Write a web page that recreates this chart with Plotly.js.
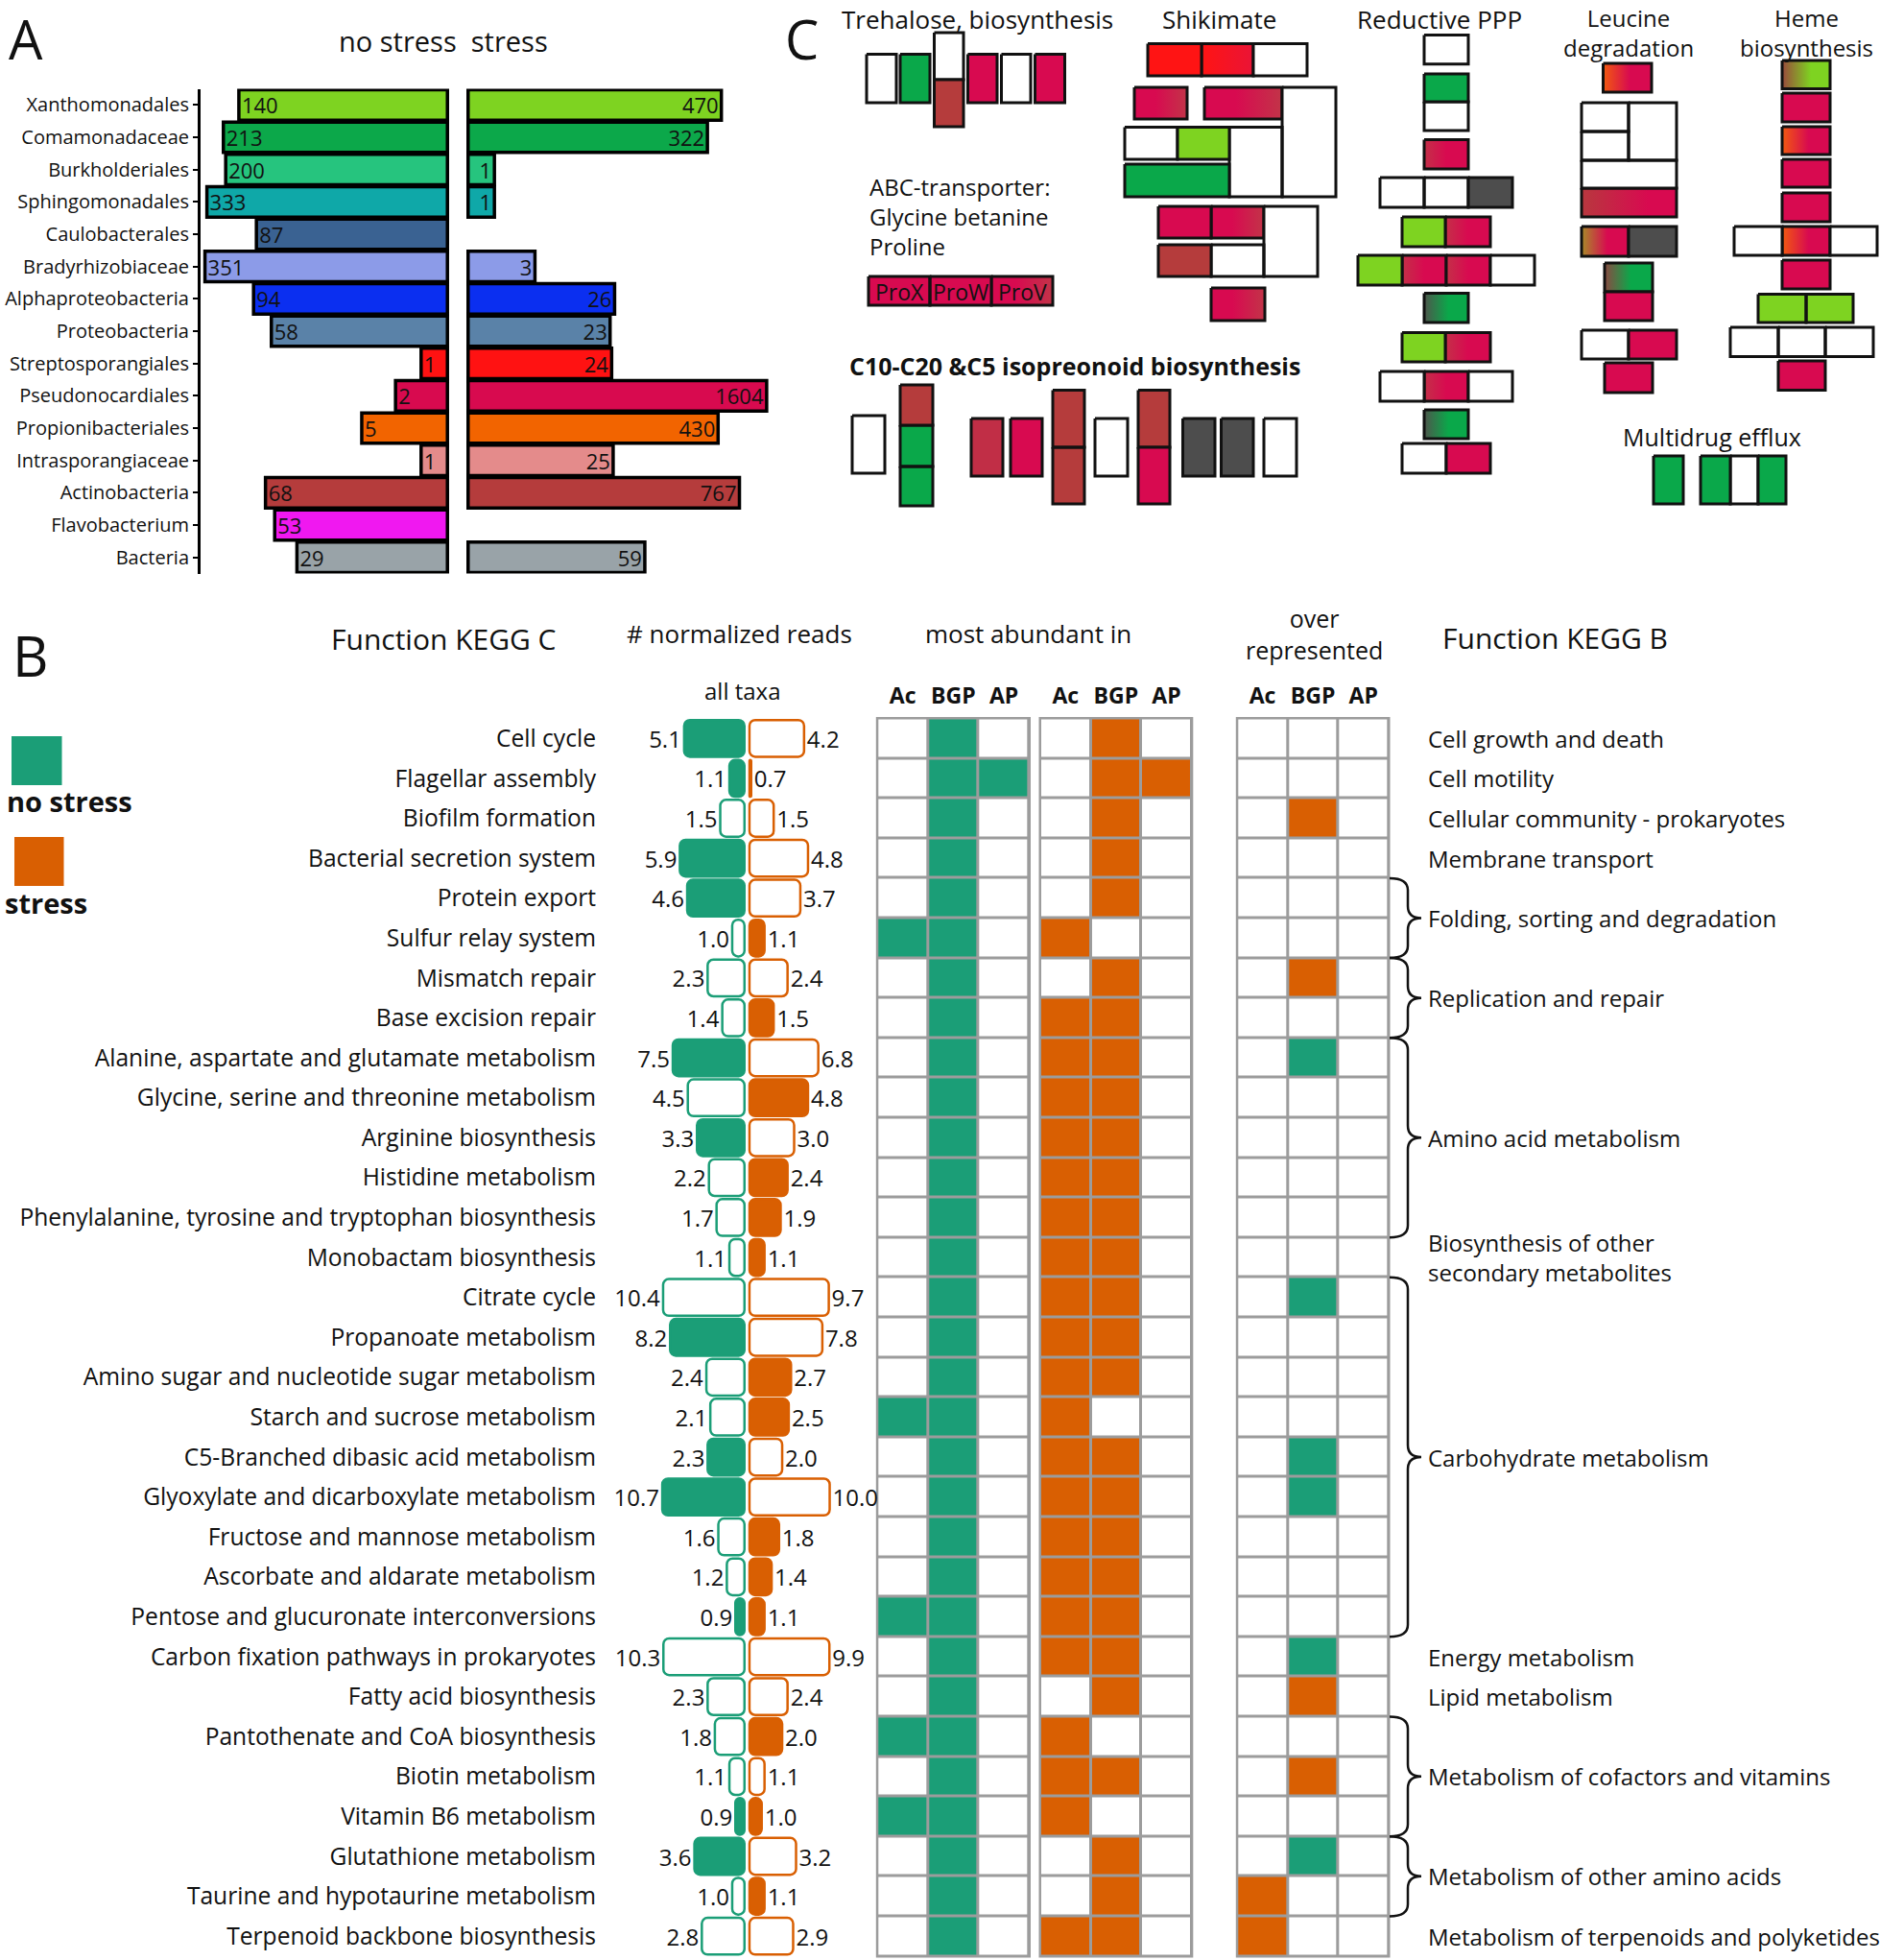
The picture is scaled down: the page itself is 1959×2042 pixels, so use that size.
<!DOCTYPE html>
<html><head><meta charset="utf-8">
<script src="https://cdn.plot.ly/plotly-3.0.1.min.js"></script>
<style>html,body{margin:0;padding:0;background:#fff}</style>
</head><body><div id="chart" style="width:1959px;height:2042px"></div>
<script>
// ================= DATA =================
// Panel A: taxa abundance (log scale)
const taxa = ['Xanthomonadales','Comamonadaceae','Burkholderiales','Sphingomonadales','Caulobacterales','Bradyrhizobiaceae','Alphaproteobacteria','Proteobacteria','Streptosporangiales','Pseudonocardiales','Propionibacteriales','Intrasporangiaceae','Actinobacteria','Flavobacterium','Bacteria'];
const taxaNoStress = [140,213,200,333,87,351,94,58,1,2,5,1,68,53,29];
const taxaStress   = [470,322,1,1,null,3,26,23,24,1604,430,25,767,null,59];
const taxaColors = ['#7ed321','#0ca84a','#26c47e','#0fa8a8','#3a6292','#8c9be8','#0b2ff0','#5a82a8','#ff1212','#d80a4f','#f26400','#e48b8b','#b53c3c','#f018f0','#99a3a8'];

// Panel B: KEGG C functions
const functionsC = ['Cell cycle','Flagellar assembly','Biofilm formation','Bacterial secretion system','Protein export','Sulfur relay system','Mismatch repair','Base excision repair','Alanine, aspartate and glutamate metabolism','Glycine, serine and threonine metabolism','Arginine biosynthesis','Histidine metabolism','Phenylalanine, tyrosine and tryptophan biosynthesis','Monobactam biosynthesis','Citrate cycle','Propanoate metabolism','Amino sugar and nucleotide sugar metabolism','Starch and sucrose metabolism','C5-Branched dibasic acid metabolism','Glyoxylate and dicarboxylate metabolism','Fructose and mannose metabolism','Ascorbate and aldarate metabolism','Pentose and glucuronate interconversions','Carbon fixation pathways in prokaryotes','Fatty acid biosynthesis','Pantothenate and CoA biosynthesis','Biotin metabolism','Vitamin B6 metabolism','Glutathione metabolism','Taurine and hypotaurine metabolism','Terpenoid backbone biosynthesis'];
const readsNoStress = [5.1,1.1,1.5,5.9,4.6,1.0,2.3,1.4,7.5,4.5,3.3,2.2,1.7,1.1,10.4,8.2,2.4,2.1,2.3,10.7,1.6,1.2,0.9,10.3,2.3,1.8,1.1,0.9,3.6,1.0,2.8];
const readsStress   = [4.2,0.7,1.5,4.8,3.7,1.1,2.4,1.5,6.8,4.8,3.0,2.4,1.9,1.1,9.7,7.8,2.7,2.5,2.0,10.0,1.8,1.4,1.1,9.9,2.4,2.0,1.1,1.0,3.2,1.1,2.9];
const filledNoStress = [1,1,0,1,1,0,0,0,1,0,1,0,0,0,0,1,0,0,1,1,0,0,1,0,0,0,0,1,1,0,0];
const filledStress   = [0,1,0,0,0,1,0,1,0,1,0,1,1,1,0,0,1,1,0,0,1,1,1,0,0,1,0,1,0,1,0];
const gridColumns = ['Ac','BGP','AP'];
// most abundant in (no stress): 1 = yes
const abundantNoStress = [[0,1,0],[0,1,1],[0,1,0],[0,1,0],[0,1,0],[1,1,0],[0,1,0],[0,1,0],[0,1,0],[0,1,0],[0,1,0],[0,1,0],[0,1,0],[0,1,0],[0,1,0],[0,1,0],[0,1,0],[1,1,0],[0,1,0],[0,1,0],[0,1,0],[0,1,0],[1,1,0],[0,1,0],[0,1,0],[1,1,0],[0,1,0],[1,1,0],[0,1,0],[0,1,0],[0,1,0]];
// most abundant in (stress)
const abundantStress = [[0,1,0],[0,1,1],[0,1,0],[0,1,0],[0,1,0],[1,0,0],[0,1,0],[1,1,0],[1,1,0],[1,1,0],[1,1,0],[1,1,0],[1,1,0],[1,1,0],[1,1,0],[1,1,0],[1,1,0],[1,0,0],[1,1,0],[1,1,0],[1,1,0],[1,1,0],[1,1,0],[1,1,0],[0,1,0],[1,0,0],[1,1,0],[1,0,0],[0,1,0],[0,1,0],[1,1,0]];
// over represented: 1 = no stress, 2 = stress
const overRepresented = [[0,0,0],[0,0,0],[0,2,0],[0,0,0],[0,0,0],[0,0,0],[0,2,0],[0,0,0],[0,1,0],[0,0,0],[0,0,0],[0,0,0],[0,0,0],[0,0,0],[0,1,0],[0,0,0],[0,0,0],[0,0,0],[0,1,0],[0,1,0],[0,0,0],[0,0,0],[0,0,0],[0,1,0],[0,2,0],[0,0,0],[0,2,0],[0,0,0],[0,1,0],[2,0,0],[2,0,0]];
// KEGG B groups: [label, first row, last row]
const functionsB = [
 ['Cell growth and death',0,0],['Cell motility',1,1],['Cellular community - prokaryotes',2,2],['Membrane transport',3,3],
 ['Folding, sorting and degradation',4,5],['Replication and repair',6,7],['Amino acid metabolism',8,12],
 ['Biosynthesis of other<br>secondary metabolites',13,13],['Carbohydrate metabolism',14,22],['Energy metabolism',23,23],
 ['Lipid metabolism',24,24],['Metabolism of cofactors and vitamins',25,27],['Metabolism of other amino acids',28,29],
 ['Metabolism of terpenoids and polyketides',30,30]];

// Panel C: pathway gene boxes - state codes per box (W none, G green, L light green, C crimson, B brown, R red, O orange, K grey, M mixed; 'a>b' gradient)
const trehaloseStates = ['W','G','W','B','C','W','C'];
const shikimateStates = ['R','R>r','W','C>M','C>M','W','W','L','W','G','C','C>M','W','B','W','C>M'];
const proStates = ['C','C','C>M'];
const proGenes = ['ProX','ProW','ProV'];
const isoprenoidStates = ['W','B','G','G','M','C','B','B','W','B','C','K','K','W'];
const pppStates = ['W','G','W','M>C','W','W','K','L','M>C','L','M>C','M>C','W','K>G','L','M>C','W','M>C','W','K>G','W','C'];
const leucineStates = ['O>C','W','W','W','W','B>C','Y>C','K','B>G','C','W','C','C'];
const hemeStates = ['B>L','C','O>C','C','C','W','O>C','W','C','L','L','W','W','W','C'];
const multidrugStates = ['G','G','W','G'];

// ================= GEOMETRY / STYLE =================
const W = 1959, H = 2042, FONT = 'Open Sans, sans-serif', INK = '#111';
const GREEN = '#1b9e77', ORANGE = '#d95f02';
const px = x => x / W, py = y => 1 - y / H;

// diagram box outlines for panel C, [x0,x1,y0,y1] in figure pixels
const trehaloseGeom = [[903,934,56.5,107],[938,969,56.5,107],[973.5,1004,34,83],[973.5,1004,83,132],[1008.5,1039,56.5,107],[1043.5,1074,56.5,107],[1078.5,1109.5,56.5,107]];
const shikimateGeom = [[1196,1252,45.5,79],[1252,1306,45.5,79],[1306,1362,45.5,79],[1182,1237,91,124],[1255,1336,91,124],[1336,1392,91,205],[1172,1227,132.5,166],[1227,1281,132.5,166],[1281,1336,132.5,205],[1172,1281,171,205],[1207,1262,215,248],[1262,1317,215,248],[1317,1373,215,288],[1207,1262,255,288],[1262,1317,255,288],[1262,1318,300,334]];
const proGeom = [[905,969,288,318],[969,1033,288,318],[1033,1097,288,318]];
const isoprenoidGeom = [[888,922,433,493],[938,972,401,443],[938,972,443,486],[938,972,486,527],[1012,1045,436,496],[1053,1086,436,496],[1097,1130,406.5,466],[1097,1130,466,525],[1141,1175,436,496],[1186,1219,406.5,466],[1186,1219,466,525],[1232.5,1266,436,496],[1272.5,1306,436,496],[1317,1351,436,496]];
const pppGeom = [[1484,1530,36.6,66.8],[1484,1530,77,106],[1484,1530,106,136],[1484,1530,145.5,176],[1438,1484,185,216],[1484,1530,185,216],[1530,1576,185,216],[1461,1506,226,257],[1506,1553,226,257],[1415,1461,266,297],[1461,1507,266,297],[1507,1553,266,297],[1553,1599,266,297],[1484,1530,305.5,336],[1461,1506,346.5,377],[1506,1553,346.5,377],[1438,1484,387,418],[1484,1530,387,418],[1530,1576,387,418],[1484,1530,427,457],[1461,1507,462,493],[1507,1553,462,493]];
const leucineGeom = [[1670.5,1721,66,96],[1648,1697,107,137],[1648,1697,137,167],[1697,1747,107,167],[1648,1747,167,196],[1648,1747,196,226],[1648,1697,236,267],[1697,1747,236,267],[1672,1722,274,304],[1672,1722,304,334],[1648,1697,344,374],[1697,1747,344,374],[1672,1722,378,409]];
const hemeGeom = [[1857,1907,63,92.5],[1857,1907,97,127],[1857,1907,132,161],[1857,1907,166,195],[1857,1907,201,231],[1807,1857,236,266],[1857,1907,236,266],[1907,1956,236,266],[1857,1907,271,301],[1832,1882,306.5,336],[1882,1931,306.5,336],[1803,1853,341,371.5],[1853,1902,341,371.5],[1902,1952,341,371.5],[1853,1902,376,406.5]];
const multidrugGeom = [[1723,1754,475,525],[1772,1803,475,525],[1803,1832,475,525],[1832,1861,475,525]];

const solidFill = {W:'#ffffff',G:'#0aa84a',L:'#7ed321',C:'#d80a50',B:'#b53c3c',R:'#ff1414',O:'#f26500',K:'#4d4d4d',M:'#c12e46'};
const gradFill = {
 'R>r':[[0,'#ff1414'],[1,'#ea1436']],
 'C>M':[[0,'#d80a50'],[0.4,'#d80a50'],[1,'#c23448']],
 'M>C':[[0,'#c43048'],[0.5,'#d80a50'],[1,'#d80a50']],
 'K>G':[[0,'#4e564c'],[0.55,'#0aa84a'],[1,'#0aa84a']],
 'O>C':[[0,'#f25a10'],[0.55,'#d80a50'],[1,'#d80a50']],
 'B>L':[[0,'#9a4a3c'],[0.6,'#7ed321'],[1,'#7ed321']],
 'B>C':[[0,'#b8383e'],[0.7,'#d80a50'],[1,'#d80a50']],
 'Y>C':[[0,'#a88c28'],[0.55,'#d80a50'],[1,'#d80a50']],
 'B>G':[[0,'#8a4a42'],[0.55,'#0aa84a'],[1,'#0aa84a']]
};

const traces = [];
// ---------- Panel A ----------
const baseA = Math.pow(10, -0.31);
const barA = (vals, xa) => ({
  type:'bar', orientation:'h', y:taxa, x:vals.map(v => v == null ? null : v - baseA), base:baseA,
  xaxis:xa, yaxis:'y', width:0.94,
  marker:{color:taxaColors, line:{color:'#000', width:3.5}},
  text:vals.map(v => v == null ? '' : String(v)), textposition:'inside', insidetextanchor:'end',
  textangle:0, constraintext:'none', textfont:{size:22, color:INK, family:FONT}, hoverinfo:'skip'
});
traces.push(barA(taxaNoStress, 'x'), barA(taxaStress, 'x2'));

// ---------- Panel B bars ----------
const rowIdx = functionsC.map((_, i) => i);
const baseB = 0.66;
const barB = (vals, filled, col, xa) => ({
  type:'bar', orientation:'h', y:rowIdx, x:vals.map(v => v - baseB), base:baseB,
  xaxis:xa, yaxis:'y2', width:0.92,
  marker:{color:filled.map(f => f ? col : '#ffffff'), line:{color:col, width:2.5}, cornerradius:6},
  text:vals.map(v => v.toFixed(1)), textposition:'outside', textangle:0, constraintext:'none', cliponaxis:false,
  textfont:{size:24, color:INK, family:FONT}, hoverinfo:'skip'
});
traces.push(barB(readsNoStress, filledNoStress, GREEN, 'x3'), barB(readsStress, filledStress, ORANGE, 'x4'));

// ---------- Panel B grids ----------
const heat = (z, xa, scale, zmax) => ({type:'heatmap', z, x:[0,1,2], y:rowIdx, xaxis:xa, yaxis:'y2',
  colorscale:scale, zmin:0, zmax, showscale:false, xgap:3, ygap:3, hoverinfo:'skip'});
traces.push(heat(abundantNoStress, 'x5', [[0,'#ffffff'],[1,GREEN]], 1));
traces.push(heat(abundantStress, 'x6', [[0,'#ffffff'],[1,ORANGE]], 1));
traces.push(heat(overRepresented, 'x7', [[0,'#ffffff'],[0.33,'#ffffff'],[0.34,GREEN],[0.66,GREEN],[0.67,ORANGE],[1,ORANGE]], 2));

// ---------- Panel C boxes ----------
const solidBuckets = {};
function addBoxes(geom, states) {
  geom.forEach((g, i) => {
    const [x0, x1, y0, y1] = g, s = states[i];
    const xs = [x0, x1, x1, x0, x0], ys = [y0, y0, y1, y1, y0];
    if (gradFill[s]) {
      traces.push({type:'scatter', mode:'lines', x:xs, y:ys, xaxis:'x8', yaxis:'y3', fill:'toself',
        fillgradient:{type:'horizontal', start:x0, stop:x1, colorscale:gradFill[s]}, line:{color:INK, width:3}, hoverinfo:'skip'});
    } else {
      const b = solidBuckets[s] || (solidBuckets[s] = {x:[], y:[]});
      b.x.push(...xs, null); b.y.push(...ys, null);
    }
  });
}
addBoxes(trehaloseGeom, trehaloseStates);
addBoxes(shikimateGeom, shikimateStates);
addBoxes(proGeom, proStates);
addBoxes(isoprenoidGeom, isoprenoidStates);
addBoxes(pppGeom, pppStates);
addBoxes(leucineGeom, leucineStates);
addBoxes(hemeGeom, hemeStates);
addBoxes(multidrugGeom, multidrugStates);
Object.keys(solidBuckets).forEach(k => {
  traces.push({type:'scatter', mode:'lines', x:solidBuckets[k].x, y:solidBuckets[k].y, xaxis:'x8', yaxis:'y3',
    fill:'toself', fillcolor:solidFill[k], line:{color:INK, width:3}, hoverinfo:'skip', connectgaps:false});
});

// ---------- annotations ----------
const note = (text, x, y, size, extra) => Object.assign({text, x, y, xref:'x8', yref:'y3', showarrow:false,
  xanchor:'center', yanchor:'middle', font:{size, color:INK, family:FONT}}, extra || {});
const ANCHOR_TOP = {yanchor:'top'};
const annotations = [
  note('A', 27, 0, 56, ANCHOR_TOP), note('B', 31, 682, 58), note('C', 835, 0, 56, ANCHOR_TOP),
  note('no stress  stress', 462, 42, 29),
  note('Function KEGG C', 462, 665, 30), note('# normalized reads', 770, 660, 26), note('all taxa', 773, 719, 24),
  note('most abundant in', 1071, 660, 26), note('over<br>represented', 1369, 660, 25),
  note('Function KEGG B', 1620, 664, 30),
  note('<b>no stress</b>', 5, 834, 29, {xanchor:'left'}), note('<b>stress</b>', 3, 940, 29, {xanchor:'left'}),
  note('Trehalose, biosynthesis', 1018, 0, 26, ANCHOR_TOP), note('Shikimate', 1270, 0, 26, ANCHOR_TOP),
  note('ABC-transporter:<br>Glycine betanine<br>Proline', 904, 225, 24, {xanchor:'left', align:'left'}),
  note('<b>C10-C20 &C5 isopreonoid biosynthesis</b>', 1120, 381, 25),
  note('Reductive PPP', 1500, 0, 26, ANCHOR_TOP), note('Leucine<br>degradation', 1697, 0, 24, ANCHOR_TOP),
  note('Heme<br>biosynthesis', 1882, 0, 24, ANCHOR_TOP), note('Multidrug efflux', 1784, 455, 25)
];
proGeom.forEach((g, i) => annotations.push(note(proGenes[i], (g[0] + g[1]) / 2, (g[2] + g[3]) / 2 + 1, 23)));
functionsB.forEach(([label, a, b]) => annotations.push({text:label, x:1486, y:(a + b) / 2, xref:'x8', yref:'y2',
  showarrow:false, xanchor:'left', yanchor:'middle', align:'left', font:{size:24, color:INK, family:FONT}}));

// ---------- shapes ----------
const shapes = [];
['x5','x6','x7'].forEach(xa => shapes.push({type:'rect', xref:xa + ' domain', yref:'y2 domain', x0:0, x1:1, y0:0, y1:1,
  fillcolor:'#9c9c9c', line:{color:'#9c9c9c', width:3}, layer:'below'}));
shapes.push({type:'rect', xref:'x8', yref:'y3', x0:12, x1:64.5, y0:767, y1:818, fillcolor:GREEN, line:{width:0}});
shapes.push({type:'rect', xref:'x8', yref:'y3', x0:15, x1:66.5, y0:872, y1:923, fillcolor:ORANGE, line:{width:0}});
const bx0 = 1448, bxv = 1467, bxt = 1481, br = 0.3;
functionsB.forEach(([label, a, b]) => {
  if (b <= a) return;
  const yt = a - 0.5, yb = b + 0.5, ym = (a + b) / 2;
  const path = `M ${bx0},${yt} Q ${bxv},${yt} ${bxv},${yt + br} L ${bxv},${ym - br} Q ${bxv},${ym} ${bxt},${ym} ` +
    `Q ${bxv},${ym} ${bxv},${ym + br} L ${bxv},${yb - br} Q ${bxv},${yb} ${bx0},${yb}`;
  shapes.push({type:'path', xref:'x8', yref:'y2', path, line:{color:INK, width:2.5}});
});

// ---------- layout ----------
const hidden = {showgrid:false, zeroline:false, showticklabels:false, showline:false, ticks:'', fixedrange:true};
const gridAxis = (d0, d1) => Object.assign({}, hidden, {domain:[px(d0), px(d1)], range:[-0.5, 2.5], anchor:'y2', side:'top',
  showticklabels:true, tickvals:[0,1,2], ticktext:gridColumns.map(c => '<b>' + c + '</b>'), ticklabelstandoff:10,
  tickfont:{size:23, color:INK, family:FONT}});
const layout = {
  width:W, height:H, margin:{l:0, r:0, t:0, b:0}, paper_bgcolor:'#ffffff', plot_bgcolor:'rgba(0,0,0,0)',
  showlegend:false, font:{family:FONT, color:INK}, barmode:'overlay',
  xaxis:Object.assign({}, hidden, {type:'log', domain:[px(209), px(468)], range:[2.597, -0.33], anchor:'y'}),
  xaxis2:Object.assign({}, hidden, {type:'log', domain:[px(486), px(810)], range:[-0.33, 3.331], anchor:'y'}),
  yaxis:{type:'category', domain:[py(597.5), py(92.5)], range:[14.5, -0.5], anchor:'x', showline:true, linewidth:3,
    linecolor:'#000', ticks:'outside', ticklen:5, tickwidth:2, tickcolor:'#000', showgrid:false, zeroline:false,
    tickfont:{size:20, color:INK, family:FONT}, fixedrange:true},
  xaxis3:Object.assign({}, hidden, {type:'log', domain:[px(688), px(777.5)], range:[1.059, -0.205], anchor:'y2'}),
  xaxis4:Object.assign({}, hidden, {type:'log', domain:[px(779.2), px(870)], range:[-0.205, 1.077], anchor:'y2'}),
  xaxis5:gridAxis(914.3, 1072.5), xaxis6:gridAxis(1084, 1241.8), xaxis7:gridAxis(1289.3, 1447),
  yaxis2:{type:'linear', domain:[py(2038), py(748.5)], range:[30.5, -0.5], anchor:'free', position:px(621),
    tickvals:rowIdx, ticktext:functionsC, ticks:'', showline:false, showgrid:false, zeroline:false,
    tickfont:{size:24.6, color:INK, family:FONT}, fixedrange:true},
  xaxis8:Object.assign({}, hidden, {domain:[0,1], range:[0, W], anchor:'y3', visible:false}),
  yaxis3:Object.assign({}, hidden, {domain:[0,1], range:[H, 0], anchor:'x8', visible:false}),
  annotations, shapes
};
Plotly.newPlot('chart', traces, layout, {staticPlot:true, displayModeBar:false});
</script></body></html>
